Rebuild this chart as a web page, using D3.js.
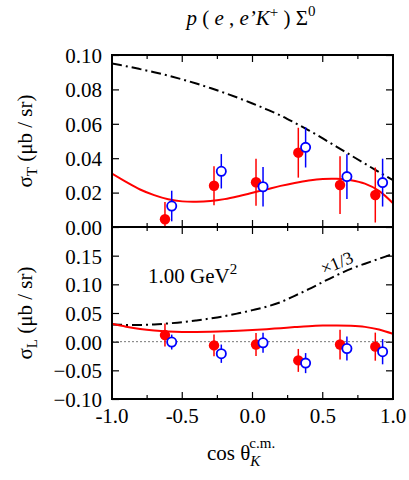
<!DOCTYPE html>
<html>
<head>
<meta charset="utf-8">
<script src="https://cdn.jsdelivr.net/npm/d3@7"></script>
<style>
  body { margin: 0; background: #fff; }
  svg text { font-family: "Liberation Serif", "Times New Roman", serif; fill: #000; }
</style>
</head>
<body>
<div id="chart"></div>
<script>
// measured points: filled red and open blue, sigma_T and sigma_L
var cosRed  = [-0.623, -0.274, 0.025, 0.326, 0.623, 0.874];
var cosBlue = [-0.575, -0.222, 0.075, 0.378, 0.672, 0.926];

var sigTRed     = [0.0045, 0.0240, 0.0260, 0.0432, 0.0244, 0.0186];
var sigTRedErr  = [0.0100, 0.0113, 0.0137, 0.0145, 0.0168, 0.0160];
var sigTBlue    = [0.0122, 0.0324, 0.0234, 0.0463, 0.0293, 0.0258];
var sigTBlueErr = [0.0089, 0.0100, 0.0115, 0.0117, 0.0130, 0.0139];

var sigLRed     = [0.0115, -0.0065, -0.0050, -0.0327, -0.0050, -0.0087];
var sigLRedErr  = [0.0200, 0.0190, 0.0200, 0.0200, 0.0260, 0.0245];
var sigLBlue    = [-0.0007, -0.0210, -0.0020, -0.0374, -0.0120, -0.0175];
var sigLBlueErr = [0.0130, 0.0160, 0.0175, 0.0175, 0.0210, 0.0220];

// model curves, sampled on this grid
var curveCos = [-1.0, -0.9, -0.8, -0.7, -0.6, -0.5, -0.4, -0.3, -0.2, -0.1, 0.0,
                0.1, 0.2, 0.3, 0.4, 0.5, 0.6, 0.7, 0.8, 0.9, 1.0];
var modelTRed  = [0.0310, 0.0262, 0.0218, 0.0185, 0.0161, 0.0149, 0.0147, 0.0151, 0.0162, 0.0179, 0.0199,
                  0.0219, 0.0239, 0.0256, 0.0270, 0.0279, 0.0280, 0.0272, 0.0252, 0.0210, 0.0138];
var modelTDash = [0.0950, 0.0935, 0.0918, 0.0900, 0.0880, 0.0858, 0.0834, 0.0808, 0.0780, 0.0750, 0.0718,
                  0.0684, 0.0648, 0.0606, 0.0562, 0.0515, 0.0466, 0.0417, 0.0368, 0.0320, 0.0272];
var modelLRed  = [0.0312, 0.0262, 0.0222, 0.0195, 0.0178, 0.0170, 0.0170, 0.0174, 0.0182, 0.0190, 0.0202,
                  0.0218, 0.0236, 0.0254, 0.0270, 0.0280, 0.0284, 0.0278, 0.0258, 0.0212, 0.0135];
var modelLDash = [0.0300, 0.0292, 0.0290, 0.0300, 0.0318, 0.0340, 0.0370, 0.0405, 0.0445, 0.0495, 0.0550,
                  0.0610, 0.0690, 0.0800, 0.0915, 0.1040, 0.1160, 0.1270, 0.1360, 0.1445, 0.1530];

// axis ticks
var xTickLabels = [-1.0, -0.5, 0.0, 0.5, 1.0];
var xMinorTicks = [-0.75, -0.25, 0.25, 0.75];
var yTTicks = [0.00, 0.02, 0.04, 0.06, 0.08, 0.10];
var yLTicks = [-0.10, -0.05, 0.00, 0.05, 0.10, 0.15];

var W = 409, H = 480;
var pLeft = 112, pRight = 393, pTop = 55, pMid = 227, pBottom = 399;
var serif = '"Liberation Serif", "Times New Roman", serif';

var svg = d3.select('#chart').append('svg').attr('width', W).attr('height', H);

var x = d3.scaleLinear().domain([-1, 1]).range([pLeft, pRight]);
var yT = d3.scaleLinear().domain([0, 0.10]).range([pMid, pTop]);
var yL = d3.scaleLinear().domain([-0.10, 0.20]).range([pBottom, pMid]);

// clip paths for each panel
var defs = svg.append('defs');
defs.append('clipPath').attr('id', 'clipT').append('rect')
  .attr('x', pLeft).attr('y', pTop).attr('width', pRight - pLeft).attr('height', pMid - pTop);
defs.append('clipPath').attr('id', 'clipL').append('rect')
  .attr('x', pLeft).attr('y', pMid).attr('width', pRight - pLeft).attr('height', pBottom - pMid);

/*
 * draw one panel: ticks, curves and points
 */
function drawPanel(y, ticks, fmt, clipId, redCurve, dashCurve, red, redErr, blue, blueErr, zeroLine) {
  var g = svg.append('g');
  var yTop = y.range()[1], yBot = y.range()[0];

  // y ticks on both sides
  var yAxisL = d3.axisLeft(y).tickValues(ticks).tickSize(-7).tickPadding(10).tickFormat(fmt);
  var gl = g.append('g').attr('transform', 'translate(' + pLeft + ',0)').call(yAxisL)
    .attr('font-family', serif);
  gl.select('.domain').remove();
  gl.selectAll('text').style('font-size', '21px').attr('dy', '0.35em');
  gl.selectAll('line').attr('stroke-width', 1.2);
  var gr = g.append('g').attr('transform', 'translate(' + pRight + ',0)')
    .call(d3.axisRight(y).tickValues(ticks).tickSize(-7).tickFormat(''));
  gr.select('.domain').remove();
  gr.selectAll('line').attr('stroke-width', 1.2);

  // x ticks top and bottom of panel
  [yTop, yBot].forEach(function (yy) {
    var dir = yy == yTop ? 1 : -1;
    g.selectAll(null).data(xTickLabels).enter().append('line')
      .attr('x1', function (d) { return x(d); }).attr('x2', function (d) { return x(d); })
      .attr('y1', yy).attr('y2', yy + dir * 7).attr('stroke', '#000').attr('stroke-width', 1.2);
    g.selectAll(null).data(xMinorTicks).enter().append('line')
      .attr('x1', function (d) { return x(d); }).attr('x2', function (d) { return x(d); })
      .attr('y1', yy).attr('y2', yy + dir * 4).attr('stroke', '#000').attr('stroke-width', 1.2);
  });

  var plot = g.append('g').attr('clip-path', 'url(#' + clipId + ')');

  if (zeroLine) {
    plot.append('line').attr('x1', pLeft).attr('x2', pRight)
      .attr('y1', y(0)).attr('y2', y(0))
      .attr('stroke', '#555').attr('stroke-width', 0.8).attr('stroke-dasharray', '2,2');
  }

  var line = d3.line()
    .x(function (d, i) { return x(curveCos[i]); })
    .y(function (d) { return y(d); })
    .curve(d3.curveCatmullRom.alpha(0.5));

  plot.append('path').datum(dashCurve).attr('d', line)
    .attr('fill', 'none').attr('stroke', '#000').attr('stroke-width', 2)
    .attr('stroke-dasharray', '10,4,2,4');
  plot.append('path').datum(redCurve).attr('d', line)
    .attr('fill', 'none').attr('stroke', '#f00').attr('stroke-width', 2);

  // error bars
  plot.selectAll(null).data(red).enter().append('line')
    .attr('x1', function (d, i) { return x(cosRed[i]); }).attr('x2', function (d, i) { return x(cosRed[i]); })
    .attr('y1', function (d, i) { return y(d - redErr[i]); }).attr('y2', function (d, i) { return y(d + redErr[i]); })
    .attr('stroke', '#f00').attr('stroke-width', 1.5);
  plot.selectAll(null).data(blue).enter().append('line')
    .attr('x1', function (d, i) { return x(cosBlue[i]); }).attr('x2', function (d, i) { return x(cosBlue[i]); })
    .attr('y1', function (d, i) { return y(d - blueErr[i]); }).attr('y2', function (d, i) { return y(d + blueErr[i]); })
    .attr('stroke', '#00f').attr('stroke-width', 1.5);

  // markers
  plot.selectAll(null).data(red).enter().append('circle')
    .attr('cx', function (d, i) { return x(cosRed[i]); }).attr('cy', function (d) { return y(d); })
    .attr('r', 5.2).attr('fill', '#f00');
  plot.selectAll(null).data(blue).enter().append('circle')
    .attr('cx', function (d, i) { return x(cosBlue[i]); }).attr('cy', function (d) { return y(d); })
    .attr('r', 4.6).attr('fill', '#fff').attr('stroke', '#00f').attr('stroke-width', 1.8);
}

drawPanel(yT, yTTicks, d3.format('.2f'), 'clipT', modelTRed, modelTDash,
  sigTRed, sigTRedErr, sigTBlue, sigTBlueErr, false);
drawPanel(yL, yLTicks, d3.format('.2f'), 'clipL', modelLRed, modelLDash,
  sigLRed, sigLRedErr, sigLBlue, sigLBlueErr, true);

// frames
svg.append('rect').attr('x', pLeft).attr('y', pTop).attr('width', pRight - pLeft).attr('height', pBottom - pTop)
  .attr('fill', 'none').attr('stroke', '#000').attr('stroke-width', 2);
svg.append('line').attr('x1', pLeft).attr('x2', pRight).attr('y1', pMid).attr('y2', pMid)
  .attr('stroke', '#000').attr('stroke-width', 2);

// x tick labels
svg.selectAll(null).data(xTickLabels).enter().append('text')
  .attr('x', function (d) { return x(d); }).attr('y', 423)
  .attr('text-anchor', 'middle').style('font-size', '21px')
  .text(function (d) { return d3.format('.1f')(d).replace('\u2212', '-'); });

// title
var title = svg.append('text').attr('x', 251).attr('y', 25).attr('text-anchor', 'middle').style('font-size', '21px');
title.append('tspan').style('font-style', 'italic').text('p');
title.append('tspan').text(' ( ');
title.append('tspan').style('font-style', 'italic').text('e');
title.append('tspan').text(' , ');
title.append('tspan').style('font-style', 'italic').text('e\u2019K');
title.append('tspan').attr('dy', -8).style('font-size', '15px').text('+');
title.append('tspan').attr('dy', 8).text(' ) \u03A3');
title.append('tspan').attr('dy', -9).style('font-size', '15px').text('0');

// y axis labels
function yLabel(cy, sub) {
  var t = svg.append('text').attr('transform', 'translate(32,' + cy + ') rotate(-90)')
    .attr('text-anchor', 'middle').style('font-size', '21px');
  t.append('tspan').text('\u03C3');
  t.append('tspan').attr('dy', 5).style('font-size', '15px').text(sub);
  t.append('tspan').attr('dy', -5).text(' (\u03BCb / sr)');
}
yLabel((pTop + pMid) / 2, 'T');
yLabel((pMid + pBottom) / 2, 'L');

// x axis label
var xl = svg.append('text').attr('x', 207).attr('y', 460).style('font-size', '21px');
xl.append('tspan').text('cos \u03B8');
xl.append('tspan').attr('dy', 6).style('font-size', '15px').style('font-style', 'italic').text('K');
xl.append('tspan').attr('dx', -11).attr('dy', -18).style('font-size', '15px').text('c.m.');

// annotations
var q = svg.append('text').attr('x', 148).attr('y', 283).style('font-size', '21px');
q.append('tspan').text('1.00 GeV');
q.append('tspan').attr('dy', -9).style('font-size', '15px').text('2');

svg.append('text').attr('transform', 'translate(324,275) rotate(-23)')
  .style('font-size', '18px').text('\u00D71/3');
</script>
</body>
</html>
